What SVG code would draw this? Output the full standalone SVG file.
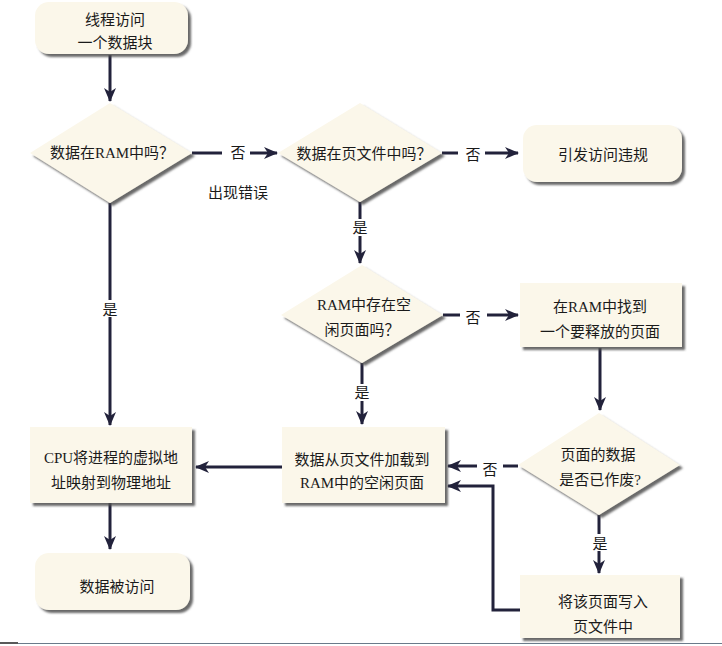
<svg xmlns="http://www.w3.org/2000/svg" width="722" height="646" viewBox="0 0 722 646">
<defs>
<filter id="sh" x="-10%" y="-10%" width="125%" height="130%">
<feDropShadow dx="3" dy="3" stdDeviation="1.2" flood-color="#505050" flood-opacity="0.85"/>
</filter>
<marker id="ah" markerUnits="userSpaceOnUse" markerWidth="16" markerHeight="14" refX="13" refY="7" orient="auto">
<path d="M0,1 L14,7 L0,13 L4,7 Z" fill="#22223b"/>
</marker>
<style>
.box{fill:#fbf7ea;filter:url(#sh);}
.t{font-family:"Liberation Serif","Noto Sans CJK SC",serif;font-size:15px;fill:#1a1a1a;text-anchor:middle;}
.c{fill:none;stroke:#22223b;stroke-width:3;}
.a{marker-end:url(#ah);}
.lb{fill:#ffffff;}
</style>
</defs>
<rect width="722" height="646" fill="#ffffff"/>

<g id="connectors">
<path class="c a" d="M110,55 V101"/>
<path class="c" d="M192,153 H222"/>
<path class="c a" d="M250,153 H277"/>
<path class="c" d="M442,153 H458"/>
<path class="c a" d="M485,153 H518"/>
<path class="c a" d="M360,202 V263"/>
<path class="c" d="M443,315 H460"/>
<path class="c a" d="M487,315 H518"/>
<path class="c a" d="M600,348 V410"/>
<path class="c a" d="M362,363 V424"/>
<path class="c a" d="M282,467 H196"/>
<path class="c a" d="M110,203 V425"/>
<path class="c a" d="M110,503 V549"/>
<path class="c" d="M518,466 H503"/>
<path class="c a" d="M477,466 H448"/>
<path class="c a" d="M520,610 H493 V486 H448"/>
<path class="c a" d="M599,515 V573"/>
<rect class="lb" x="352" y="219" width="16" height="17"/>
<rect class="lb" x="354" y="384" width="16" height="17"/>
<rect class="lb" x="102" y="300" width="16" height="17"/>
<rect class="lb" x="591" y="534" width="16" height="17"/>
<text class="t" x="238" y="158">否</text>
<text class="t" x="238" y="198">出现错误</text>
<text class="t" x="473" y="160">否</text>
<text class="t" x="360" y="233">是</text>
<text class="t" x="473" y="323">否</text>
<text class="t" x="362" y="398">是</text>
<text class="t" x="110" y="315">是</text>
<text class="t" x="490" y="475">否</text>
<text class="t" x="600" y="549">是</text>
</g>

<g id="n1">
<rect class="box" x="35" y="2" width="153" height="52" rx="14"/>
<text class="t" x="115" y="25">线程访问</text>
<text class="t" x="115" y="48">一个数据块</text>
</g>

<g id="d1">
<polygon class="box" points="110,103 192,153 110,203 30,153"/>
<text class="t" x="112" y="158">数据在RAM中吗？</text>
</g>

<g id="d2">
<polygon class="box" points="360,103 442,153 360,202 278,153"/>
<text class="t" x="364" y="159">数据在页文件中吗？</text>
</g>

<g id="n3">
<rect class="box" x="523" y="125" width="159" height="57" rx="14"/>
<text class="t" x="603" y="160">引发访问违规</text>
</g>

<g id="d3">
<polygon class="box" points="362,265 443,315 362,363 281,315"/>
<text class="t" x="364" y="310">RAM中存在空</text>
<text class="t" x="362" y="335">闲页面吗？</text>
</g>

<g id="n5">
<rect class="box" x="520" y="283" width="162" height="64"/>
<text class="t" x="600" y="312">在RAM中找到</text>
<text class="t" x="600" y="337">一个要释放的页面</text>
</g>

<g id="n6">
<rect class="box" x="282" y="427" width="163" height="76"/>
<text class="t" x="362" y="465">数据从页文件加载到</text>
<text class="t" x="362" y="488">RAM中的空闲页面</text>
</g>

<g id="n7">
<rect class="box" x="30" y="427" width="162" height="76"/>
<text class="t" x="111" y="463">CPU将进程的虚拟地</text>
<text class="t" x="111" y="488">址映射到物理地址</text>
</g>

<g id="n8">
<rect class="box" x="35" y="553" width="155" height="57" rx="14"/>
<text class="t" x="117" y="592">数据被访问</text>
</g>

<g id="d4">
<polygon class="box" points="599,413 680,465 599,515 518,465"/>
<text class="t" x="598" y="460">页面的数据</text>
<text class="t" x="600" y="485">是否已作废?</text>
</g>

<g id="n9">
<rect class="box" x="520" y="575" width="160" height="63"/>
<text class="t" x="603" y="607">将该页面写入</text>
<text class="t" x="603" y="632">页文件中</text>
</g>

<line x1="18" y1="643.5" x2="722" y2="643.5" stroke="#6a7a8a" stroke-width="1"/>
<line x1="0" y1="643" x2="18" y2="643" stroke="#222222" stroke-width="1.5"/>
</svg>
